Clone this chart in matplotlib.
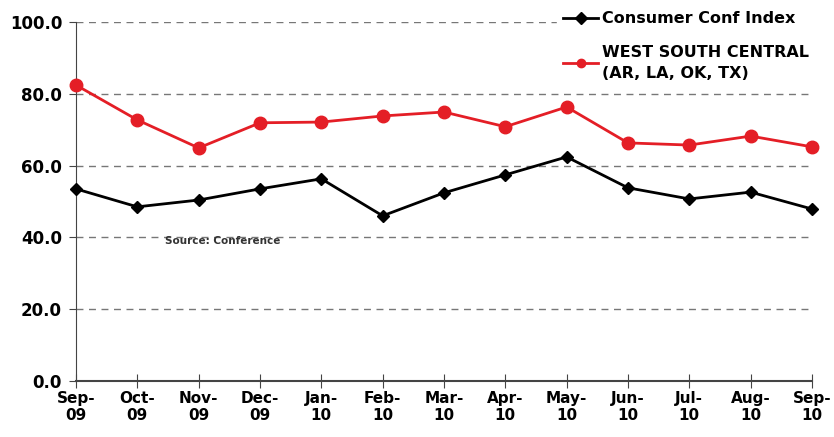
import matplotlib
matplotlib.use("Agg")
import matplotlib.pyplot as plt

months = ["Sep-\n09", "Oct-\n09", "Nov-\n09", "Dec-\n09", "Jan-\n10", "Feb-\n10", "Mar-\n10",
          "Apr-\n10", "May-\n10", "Jun-\n10", "Jul-\n10", "Aug-\n10", "Sep-\n10"]
consumer_conf = [53.5, 48.5, 50.4, 53.5, 56.3, 46.0, 52.4, 57.4, 62.4, 53.8, 50.7, 52.6, 47.9]
west_south_central = [82.4, 72.7, 64.9, 71.9, 72.1, 73.8, 74.9, 70.8, 76.3, 66.3, 65.7, 68.2, 65.2]
y_ticks = [0, 20, 40, 60, 80, 100]

fig = plt.figure(figsize=(8.34, 4.37), dpi=100)
ax = fig.add_axes([0.0911, 0.128, 0.8825, 0.822])

x = list(range(len(months)))
ax.plot(x, consumer_conf, color="black", lw=2, marker="D", ms=6.5,
        clip_on=False, zorder=4, label="Consumer Conf Index")
ax.plot(x, west_south_central, color="#e41e26", lw=2, marker="o", ms=9,
        clip_on=False, zorder=3, label="WEST SOUTH CENTRAL\n(AR, LA, OK, TX)")

ax.set_xlim(0, 12)
ax.set_ylim(0, 100)
ax.set_xticks(x)
ax.set_xticklabels(months, fontsize=11, fontweight="bold")
ax.set_yticks(y_ticks)
ax.set_yticklabels([f"{v:.1f}" for v in y_ticks], fontsize=12, fontweight="bold")

for v in y_ticks[1:]:
    ax.axhline(v, xmax=0.995, color="#777777", lw=1, ls=(0, (5, 4)), zorder=1)

for side in ["top", "right"]:
    ax.spines[side].set_visible(False)
ax.spines["left"].set_color("#444444")
ax.spines["bottom"].set_color("#444444")
ax.spines["bottom"].set_linewidth(1.5)
ax.tick_params(axis="x", direction="inout", length=10, color="#444444", pad=2)
ax.tick_params(axis="y", direction="out", length=5, color="#444444", pad=5)

ax.text(1.45, 39, "Source: Conference", fontsize=7.5, fontweight="bold", color="#333333",
        va="center", zorder=2)

leg = fig.legend(loc="upper left", bbox_to_anchor=(0.662, 1.0), frameon=True,
                 prop={"weight": "bold", "size": 11.5}, labelspacing=1.2,
                 handlelength=2.2, handletextpad=0.2, borderaxespad=0.3)
leg.get_frame().set_facecolor("white")
leg.get_frame().set_edgecolor("white")
leg.get_frame().set_alpha(1)
for t in leg.get_texts():
    t.set_linespacing(1.45)
for h in leg.legend_handles:
    h.set_markersize(6)

fig.savefig("out.png", dpi=100)
